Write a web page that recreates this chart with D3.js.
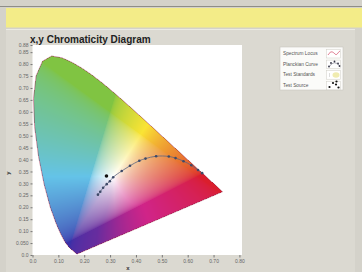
<!DOCTYPE html>
<html><head><meta charset="utf-8">
<script src="https://cdn.jsdelivr.net/npm/d3@7"></script>
<style>html,body{margin:0;padding:0;background:#d4d2ca;overflow:hidden}svg{display:block}</style>
</head><body>
<script>
// ---- data ----
const locusX = [0.1741,0.1740,0.1738,0.1736,0.1733,0.1730,0.1726,0.1721,0.1714,0.1703,0.1689,0.1669,0.1644,0.1611,0.1566,0.1510,0.1440,0.1355,0.1241,0.1096,0.0913,0.0687,0.0454,0.0235,0.0082,0.0039,0.0139,0.0389,0.0743,0.1142,0.1547,0.1929,0.2296,0.2658,0.3016,0.3373,0.3731,0.4087,0.4441,0.4788,0.5125,0.5448,0.5752,0.6029,0.6270,0.6482,0.6658,0.6801,0.6915,0.7006,0.7079,0.7140,0.7190,0.7230,0.7260,0.7283,0.7300,0.7311,0.7320,0.7334,0.7344,0.7347];
const locusY = [0.0050,0.0050,0.0049,0.0049,0.0048,0.0048,0.0048,0.0048,0.0051,0.0058,0.0069,0.0086,0.0109,0.0138,0.0177,0.0227,0.0297,0.0399,0.0578,0.0868,0.1327,0.2007,0.2950,0.4127,0.5384,0.6548,0.7502,0.8120,0.8338,0.8262,0.8059,0.7816,0.7543,0.7243,0.6923,0.6589,0.6245,0.5896,0.5547,0.5202,0.4866,0.4544,0.4242,0.3965,0.3725,0.3514,0.3340,0.3197,0.3083,0.2993,0.2920,0.2859,0.2809,0.2770,0.2740,0.2717,0.2700,0.2689,0.2680,0.2666,0.2656,0.2653];
const planckX = [0.253,0.262,0.273,0.287,0.299,0.312,0.345,0.377,0.413,0.437,0.478,0.527,0.553,0.584,0.614,0.640,0.656];
const planckY = [0.253,0.265,0.282,0.297,0.309,0.326,0.352,0.374,0.395,0.404,0.414,0.413,0.406,0.393,0.376,0.356,0.343];
const sourceX = [0.286];
const sourceY = [0.331];
const xTicks = [0,0.1,0.2,0.3,0.4,0.5,0.6,0.7,0.8];
const xTickLabels = ["0.0","0.10","0.20","0.30","0.40","0.50","0.60","0.70","0.80"];
const yTicks = [0,0.05,0.1,0.15,0.2,0.25,0.3,0.35,0.4,0.45,0.5,0.55,0.6,0.65,0.7,0.75,0.8,0.85,0.88];
const yTickLabels = ["0.0","0.050","0.10","0.15","0.20","0.25","0.30","0.35","0.40","0.45","0.50","0.55","0.60","0.65","0.70","0.75","0.80","0.85","0.88"];
const legendNames = ["Spectrum Locus","Planckian Curve","Test Standards","Test Source"];
const title = "x,y Chromaticity Diagram";

// ---- layout ----
const W = 362, H = 272;
const svg = d3.select("body").append("svg").attr("width", W).attr("height", H);
const x = d3.scaleLinear().domain([0, 0.81]).range([32.5, 242]);
const y = d3.scaleLinear().domain([0, 0.88]).range([255, 45]);

// background chrome
svg.append("rect").attr("x",0).attr("y",0).attr("width",W).attr("height",H).attr("fill","#d4d2ca");
svg.append("line").attr("x1",0).attr("x2",W).attr("y1",6.5).attr("y2",6.5).attr("stroke","#8e8d88").attr("stroke-width",1);
svg.append("rect").attr("x",6).attr("y",8).attr("width",W-6).attr("height",19.5).attr("fill","#f3ec88");
svg.append("rect").attr("x",6).attr("y",29).attr("width",349).attr("height",H-29).attr("fill","#dbd9d1");
svg.append("line").attr("x1",6).attr("x2",355).attr("y1",29.5).attr("y2",29.5).attr("stroke","#ebeae4");

// plot area
svg.append("rect").attr("x",x(0)).attr("y",y(0.88)).attr("width",x(0.81)-x(0)).attr("height",y(0)-y(0.88)).attr("fill","#ffffff");

// colour fill
const poly = locusX.map((v,i)=>[v, locusY[i]]);
const x0 = Math.floor(x(0)), x1 = Math.ceil(x(0.81)), y0 = Math.floor(y(0.88)), y1 = Math.ceil(y(0));
const cw = x1-x0, ch = y1-y0;
const canvas = document.createElement("canvas");
canvas.width = cw; canvas.height = ch;
const ctx = canvas.getContext("2d");
const img = ctx.createImageData(cw, ch);
function gam(c){ c = Math.max(0, Math.min(1, c)); return c <= 0.0031308 ? 12.92*c : 1.055*Math.pow(c,1/2.4)-0.055; }
// display tone of the RGB cube corners (muted, as in the reference screenshot)
const cube = {
  "000":[0,0,0], "100":[218,30,45], "010":[128,196,66], "001":[58,48,168],
  "110":[250,228,52], "101":[208,36,136], "011":[100,195,232], "111":[255,255,255]
};
function tone(r,g,b){
  const out=[0,0,0];
  for (const key in cube){
    const w = (key[0]==="1"?r:1-r)*(key[1]==="1"?g:1-g)*(key[2]==="1"?b:1-b);
    for (let o=0;o<3;o++) out[o]+=w*cube[key][o];
  }
  return out;
}
// purple-side hue shift seen in the reference rendering
const hueMap = d3.scaleLinear().domain([0,240,284,322,360]).range([0,240,258,303,360]);
function hsvRot(r,g,b){
  const mx=Math.max(r,g,b), mn=Math.min(r,g,b), d=mx-mn;
  if (d<1e-6) return [r,g,b];
  let h;
  if (mx===r) h = 60*(((g-b)/d)%6);
  else if (mx===g) h = 60*((b-r)/d+2);
  else h = 60*((r-g)/d+4);
  if (h<0) h+=360;
  h = hueMap(h);
  const s = d/mx, v = mx, c = v*s, hp = h/60, xx = c*(1-Math.abs(hp%2-1)), m = v-c;
  let rr=0,gg=0,bb=0;
  if (hp<1){rr=c;gg=xx;} else if (hp<2){rr=xx;gg=c;} else if (hp<3){gg=c;bb=xx;}
  else if (hp<4){gg=xx;bb=c;} else if (hp<5){rr=xx;bb=c;} else {rr=c;bb=xx;}
  return [rr+m,gg+m,bb+m];
}
for (let j=0;j<ch;j++){
  for (let i=0;i<cw;i++){
    const dx = x.invert(x0+i+0.5), dy = y.invert(y0+j+0.5);
    if (!d3.polygonContains(poly,[dx,dy])) continue;
    const X = dx/dy, Y = 1, Z = (1-dx-dy)/dy;
    let r = 3.2406*X-1.5372*Y-0.4986*Z;
    let g = -0.9689*X+1.8758*Y+0.0415*Z;
    let b = 0.0557*X-0.2040*Y+1.0570*Z;
    r=Math.max(0,r); g=Math.max(0,g); b=Math.max(0,b);
    const m = Math.max(r,g,b);
    const q = hsvRot(gam(r/m), gam(g/m), gam(b/m));
    const c = tone(q[0],q[1],q[2]);
    const k = (j*cw+i)*4;
    img.data[k]=c[0]; img.data[k+1]=c[1]; img.data[k+2]=c[2]; img.data[k+3]=255;
  }
}
ctx.putImageData(img,0,0);
svg.append("image").attr("x",x0).attr("y",y0).attr("width",cw).attr("height",ch).attr("href",canvas.toDataURL());

// spectrum locus outline
svg.append("path").datum(poly)
  .attr("d", d3.line().x(d=>x(d[0])).y(d=>y(d[1])).curve(d3.curveLinearClosed))
  .attr("fill","none").attr("stroke","#9a3050").attr("stroke-opacity",0.6).attr("stroke-width",0.9);

// planckian curve
const pl = planckX.map((v,i)=>[v, planckY[i]]);
svg.append("path").datum(pl).attr("d", d3.line().x(d=>x(d[0])).y(d=>y(d[1])).curve(d3.curveCatmullRom))
  .attr("fill","none").attr("stroke","#5a6680").attr("stroke-width",0.8);
svg.selectAll("circle.pl").data(pl).join("circle").attr("class","pl")
  .attr("cx",d=>x(d[0])).attr("cy",d=>y(d[1])).attr("r",1.3).attr("fill","#3e4a68");
// test source
svg.selectAll("circle.src").data(sourceX.map((v,i)=>[v,sourceY[i]])).join("circle").attr("class","src")
  .attr("cx",d=>x(d[0])).attr("cy",d=>y(d[1])).attr("r",1.8).attr("fill","#111");

// axes
const fnt = "Liberation Sans, Arial, sans-serif";
const xAxis = d3.axisBottom(x).tickValues(xTicks).tickFormat((d,i)=>xTickLabels[i]).tickSize(2.5).tickSizeOuter(0);
const gx = svg.append("g").attr("transform",`translate(0,${y(0)})`).call(xAxis);
gx.select(".domain").remove();
gx.selectAll("line").attr("stroke","#777");
gx.selectAll("text").attr("font-family",fnt).attr("font-size",5).attr("fill","#666").attr("dy","0.45em");
const yAxis = d3.axisLeft(y).tickValues(yTicks).tickFormat((d,i)=>yTickLabels[i]).tickSize(2).tickSizeOuter(0);
const gy = svg.append("g").attr("transform",`translate(${x(0)},0)`).call(yAxis);
gy.select(".domain").remove();
gy.selectAll("line").attr("stroke","#777");
gy.selectAll("text").attr("font-family",fnt).attr("font-size",5).attr("fill","#666").attr("dx","0.2em");

svg.append("text").attr("x",128).attr("y",270).attr("font-family",fnt).attr("font-size",6).attr("font-weight","bold").attr("fill","#333").attr("text-anchor","middle").text("x");
svg.append("text").attr("transform","translate(10,173) rotate(-90)").attr("font-family",fnt).attr("font-size",6).attr("font-weight","bold").attr("fill","#333").attr("text-anchor","middle").text("y");

// title
svg.append("text").attr("x",30).attr("y",42.5).attr("font-family",fnt).attr("font-size",10).attr("font-weight","bold").attr("fill","#222").text(title);

// legend
const lg = svg.append("g");
lg.append("rect").attr("x",280).attr("y",47).attr("width",63).attr("height",43).attr("fill","#fbfbf9").attr("stroke","#c8c6be").attr("stroke-width",0.6);
legendNames.forEach((n,i)=>{
  const yy = 53.5 + i*10.6;
  lg.append("text").attr("x",283).attr("y",yy+1.5).attr("font-family",fnt).attr("font-size",4.8).attr("fill","#555").text(n);
  lg.append("rect").attr("x",326.5).attr("y",yy-4).attr("width",14).attr("height",8.5).attr("fill","#fff").attr("stroke","#d0cec6").attr("stroke-width",0.5);
});
// icons
lg.append("path").attr("d","M328,55 C331,50 333,52 335,54 S338,52 340,51").attr("fill","none").attr("stroke","#d04060").attr("stroke-width",0.7);
[[329,66.5],[331,63],[334.5,61.5],[338,63.5],[339.5,66]].forEach(p=>lg.append("circle").attr("cx",p[0]).attr("cy",p[1]).attr("r",0.9).attr("fill","#334"));
lg.append("path").attr("d","M329,67 Q334,59 340,66").attr("fill","none").attr("stroke","#556").attr("stroke-width",0.5);
lg.append("ellipse").attr("cx",336).attr("cy",75).attr("rx",3.5).attr("ry",2.8).attr("fill","#f0ecb0");
lg.append("rect").attr("x",329).attr("y",73).attr("width",1).attr("height",4).attr("fill","#ddd");
[[329.5,87],[333,83],[336,84.5],[338.5,87.5],[336.5,81.5]].forEach(p=>lg.append("circle").attr("cx",p[0]).attr("cy",p[1]).attr("r",1.1).attr("fill","#111"));
</script>
</body></html>
